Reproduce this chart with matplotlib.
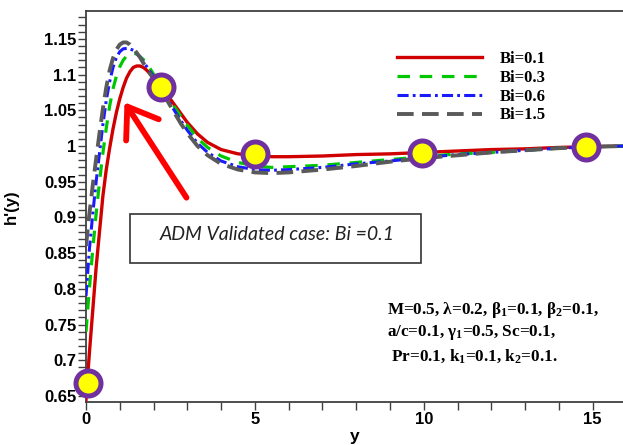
import matplotlib
matplotlib.use("Agg")
import matplotlib.pyplot as plt
from matplotlib.patches import Rectangle, FancyArrowPatch

plt.rcParams['lines.scale_dashes'] = False
plt.rcParams['mathtext.fontset'] = 'custom'
plt.rcParams['mathtext.rm'] = 'Liberation Serif:bold'
plt.rcParams['mathtext.it'] = 'Liberation Serif:bold'
plt.rcParams['mathtext.bf'] = 'Liberation Serif:bold'

# ---- data ----
tail_y = [6, 7, 8, 9, 10, 11, 12, 13, 14, 15, 16]

y_red = [0, 0.1, 0.2, 0.3, 0.4, 0.5, 0.6, 0.7, 0.8, 0.9, 1.0, 1.1, 1.2, 1.3, 1.4, 1.5, 1.6,
         1.7, 1.8, 1.9, 2.0, 2.2, 2.4, 2.6, 2.8, 3.0, 3.3, 3.6, 4.0, 4.5, 5.0, 5.5] + tail_y
h_red = [0.645, 0.71, 0.77, 0.83, 0.88, 0.93, 0.967, 0.997, 1.024, 1.047, 1.066, 1.082, 1.095,
         1.104, 1.110, 1.112, 1.112, 1.110, 1.106, 1.101, 1.096, 1.085, 1.072, 1.059, 1.046,
         1.033, 1.017, 1.005, 0.995, 0.989, 0.987, 0.985,
         0.985, 0.986, 0.988, 0.989, 0.991, 0.993, 0.995, 0.996, 0.998, 0.999, 1.0]

y_green = [0, 0.1, 0.2, 0.3, 0.4, 0.5, 0.6, 0.7, 0.8, 0.9, 1.0, 1.1, 1.2, 1.35, 1.5, 1.7,
           1.9, 2.2, 2.4, 2.6, 2.8, 3.0, 3.3, 3.6, 4.0, 4.5, 5.0, 5.5] + tail_y
h_green = [0.74, 0.80, 0.855, 0.905, 0.95, 0.99, 1.025, 1.056, 1.080, 1.098, 1.111, 1.120,
           1.126, 1.130, 1.129, 1.121, 1.108, 1.086, 1.071, 1.056, 1.042, 1.029, 1.011, 0.998,
           0.986, 0.977, 0.972, 0.970,
           0.971, 0.973, 0.977, 0.981, 0.985, 0.989, 0.991, 0.994, 0.997, 0.999, 1.0]

y_blue = [0, 0.1, 0.2, 0.3, 0.4, 0.5, 0.6, 0.7, 0.8, 0.9, 1.0, 1.1, 1.25, 1.4, 1.6, 1.8,
          2.0, 2.2, 2.4, 2.6, 2.8, 3.0, 3.3, 3.6, 4.0, 4.5, 5.0, 5.5] + tail_y
h_blue = [0.79, 0.855, 0.905, 0.95, 0.99, 1.03, 1.064, 1.090, 1.110, 1.124, 1.132, 1.136,
          1.137, 1.134, 1.125, 1.111, 1.097, 1.083, 1.067, 1.051, 1.036, 1.022, 1.004, 0.991,
          0.979, 0.971, 0.967, 0.966,
          0.967, 0.970, 0.975, 0.979, 0.984, 0.988, 0.991, 0.994, 0.997, 0.999, 1.0]

y_gray = [0, 0.1, 0.2, 0.3, 0.4, 0.5, 0.6, 0.7, 0.8, 0.9, 1.0, 1.1, 1.2, 1.3, 1.4, 1.6, 1.8,
          2.0, 2.2, 2.4, 2.6, 2.8, 3.0, 3.3, 3.6, 4.0, 4.5, 5.0, 5.5] + tail_y
h_gray = [0.86, 0.905, 0.945, 0.982, 1.018, 1.052, 1.082, 1.106, 1.123, 1.135, 1.142, 1.145,
          1.145, 1.142, 1.137, 1.124, 1.108, 1.094, 1.080, 1.064, 1.048, 1.032, 1.018, 1.000,
          0.987, 0.975, 0.967, 0.963, 0.962,
          0.963, 0.967, 0.972, 0.978, 0.983, 0.987, 0.991, 0.994, 0.997, 0.999, 1.0]

adm_y = [0.05, 2.22, 5.0, 9.95, 14.8]
adm_h = [0.668, 1.083, 0.989, 0.990, 0.999]

labels = ['Bi=0.1', 'Bi=0.3', 'Bi=0.6', 'Bi=1.5']
xticks = [0, 5, 10, 15]
yticks = [0.65, 0.7, 0.75, 0.8, 0.85, 0.9, 0.95, 1.0, 1.05, 1.1, 1.15]

W, H = 623, 445
fig = plt.figure(figsize=(W / 100, H / 100), dpi=100)
ax = fig.add_axes([86 / W, (H - 402) / H, (W - 86) / W, (402 - 11) / H])

l1, = ax.plot(y_red, h_red, color='#d00000', lw=2.4, label=labels[0], zorder=3)
l2, = ax.plot(y_green, h_green, color='#00c800', lw=2.3, label=labels[1], zorder=3)
l2.set_dashes((9, 7))
l3, = ax.plot(y_blue, h_blue, color='#1a1aff', lw=2.2, label=labels[2], zorder=3)
l3.set_dashes((8, 3, 2, 3))
l4, = ax.plot(y_gray, h_gray, color='#5a5a5a', lw=2.8, label=labels[3], zorder=3)
l4.set_dashes((12, 6))

ax.plot(adm_y, adm_h, 'o', ms=18, mfc='#ffff00', mec='#7030a0', mew=3.6, zorder=5,
        clip_on=False)

ax.set_xlim(0, 15.9)
ax.set_ylim(0.6416, 1.189)
ax.set_xticks(xticks)
ax.set_xticks(range(0, 16), minor=True)
ax.set_xticklabels([str(t) for t in xticks])
ax.set_yticks(yticks)
ax.set_yticks([0.65 + 0.01 * i for i in range(54)], minor=True)
ax.set_yticklabels(['%g' % t for t in yticks])

for s in ['left', 'bottom', 'top']:
    ax.spines[s].set_color('#404040')
    ax.spines[s].set_linewidth(1.3)
ax.spines['right'].set_visible(False)
ax.tick_params(which='both', direction='out', length=6, width=1, color='#404040')
ax.tick_params(axis='both', which='major', labelsize=12, pad=1)
for lab in ax.get_xticklabels() + ax.get_yticklabels():
    lab.set_fontfamily('Liberation Sans')
    lab.set_fontweight('bold')

ax.set_ylabel("h'(y)", fontfamily='Liberation Sans', fontweight='bold', fontsize=12)
ax.yaxis.set_label_coords(-0.125, 0.5)
ax.set_xlabel('y', fontfamily='Liberation Sans', fontweight='bold', fontsize=12.5)
ax.xaxis.set_label_coords(0.5, -0.07)

leg = ax.legend(handles=[l1, l2, l3, l4], loc='upper left',
                bbox_to_anchor=((397 - 86) / 537, 1 - (51 - 11) / 391),
                frameon=False, handlelength=5.1, handletextpad=1.05, labelspacing=0.17,
                borderpad=0, borderaxespad=0,
                prop={'family': 'Liberation Serif', 'weight': 'bold', 'size': 12})

# validation box
fig.patches.append(Rectangle((130 / W, 1 - 263 / H), (421 - 130) / W, (263 - 214) / H,
                             transform=fig.transFigure, fill=False, ec='#333333', lw=1.2))
fig.text(277 / W, 1 - 234 / H, 'ADM Validated case: Bi =0.1', ha='center', va='center',
         fontfamily='Lato', style='italic', fontsize=14, color='#222222')

# arrow
arr = FancyArrowPatch((188 / W, 1 - 200 / H), (123 / W, 1 - 100 / H),
                      transform=fig.transFigure, arrowstyle='->,head_length=1.0,head_width=0.7',
                      color='#ff0000', lw=4.2, mutation_scale=20)
fig.patches.append(arr)

params = ['M=0.5, λ=0.2, β$_1$=0.1, β$_2$=0.1,',
          'a/c=0.1, γ$_1$=0.5, Sc=0.1,',
          ' Pr=0.1, k$_1$=0.1, k$_2$=0.1.']
for i, p in enumerate(params):
    fig.text(387 / W, 1 - (310 + 23 * i) / H, p, ha='left', va='center',
             fontfamily='Liberation Serif', fontweight='bold', fontsize=12.3)

fig.savefig('out.png', dpi=100)
